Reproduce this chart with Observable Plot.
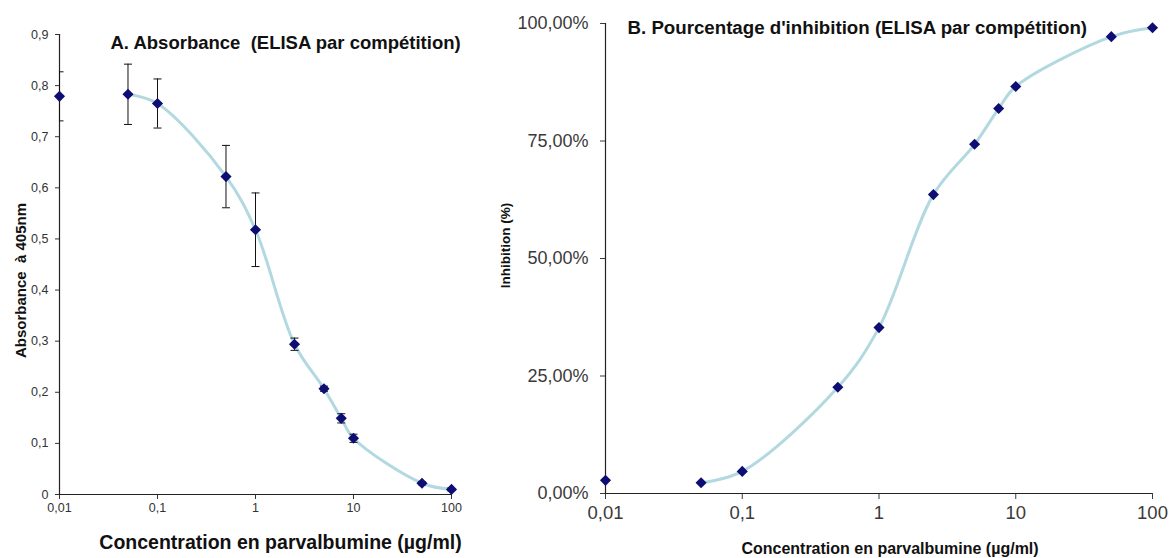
<!DOCTYPE html>
<html>
<head>
<meta charset="utf-8">
<script src="https://cdn.jsdelivr.net/npm/d3@7"></script>
<script src="https://cdn.jsdelivr.net/npm/@observablehq/plot@0.6"></script>
<style>
  html, body { margin: 0; padding: 0; background: #fff; }
  #wrap { position: relative; width: 1169px; height: 558px; overflow: hidden; font-family: "Liberation Sans", Arial, sans-serif; }
  #wrap svg { position: absolute; top: 0; background: transparent; }
</style>
</head>
<body>
<div id="wrap"></div>
<script>
// ---- Data ----
const concentrations = [0.01, 0.05, 0.1, 0.5, 1, 2.5, 5, 7.5, 10, 50, 100];
const absorbance     = [0.779, 0.783, 0.765, 0.622, 0.518, 0.294, 0.207, 0.149, 0.110, 0.022, 0.010];
const absorbanceErr  = [0.048, 0.059, 0.048, 0.061, 0.072, 0.012, 0.005, 0.009, 0.008, 0.003, 0.003];
const inhibition     = [0.028, 0.023, 0.047, 0.226, 0.353, 0.636, 0.743, 0.819, 0.866, 0.972, 0.991];

const xTicks = [0.01, 0.1, 1, 10, 100];
const xTickLabels = ["0,01", "0,1", "1", "10", "100"];
const yTicksA = [0, 0.1, 0.2, 0.3, 0.4, 0.5, 0.6, 0.7, 0.8, 0.9];
const yTickLabelsA = ["0", "0,1", "0,2", "0,3", "0,4", "0,5", "0,6", "0,7", "0,8", "0,9"];
const yTicksB = [0, 0.25, 0.5, 0.75, 1];
const yTickLabelsB = ["0,00%", "25,00%", "50,00%", "75,00%", "100,00%"];

const titleA = "A. Absorbance  (ELISA par compétition)";
const titleB = "B. Pourcentage d'inhibition (ELISA par compétition)";
const xTitle = "Concentration en parvalbumine (µg/ml)";
const yTitleA = "Absorbance  à 405nm";
const yTitleB = "Inhibition (%)";

// ---- Tables built from the arrays ----
const tableA = concentrations.map((c, i) => ({c, v: absorbance[i], lo: absorbance[i] - absorbanceErr[i], hi: absorbance[i] + absorbanceErr[i]}));
const tableB = concentrations.map((c, i) => ({c, v: inhibition[i]}));
const curveStart = 0.05; // the fitted curve begins at the second concentration

const FONT = "Liberation Sans, Arial, sans-serif";
const curveColor = "#b3d9e0";
const markerColor = "#0d0d73";

const capSymbol = {
  draw(ctx, size) {
    const w = 4;
    ctx.moveTo(-w, 0);
    ctx.lineTo(w, 0);
  }
};

const fmtFrom = (ticks, labels) => d => labels[ticks.findIndex(t => Math.abs(t - d) < 1e-9)];

// ---- Panel A ----
const plotA = Plot.plot({
  width: 490,
  height: 558,
  marginLeft: 59,
  marginRight: 39,
  marginTop: 34,
  marginBottom: 64,
  style: {fontFamily: FONT, background: "transparent"},
  x: {type: "log", domain: [0.01, 100]},
  y: {domain: [0, 0.9]},
  marks: [
    Plot.axisX({ticks: xTicks, tickFormat: fmtFrom(xTicks, xTickLabels), tickSize: 5, tickPadding: 4, fontSize: 12.5, color: "#333", label: null}),
    Plot.axisY({ticks: yTicksA, tickFormat: fmtFrom(yTicksA, yTickLabelsA), tickSize: 4, tickPadding: 7, fontSize: 12.5, color: "#333", label: null}),
    Plot.ruleY([0], {stroke: "#222", strokeWidth: 1.2}),
    Plot.ruleX([0.01], {stroke: "#222", strokeWidth: 1.2}),
    Plot.line(tableA.filter(d => d.c >= curveStart), {x: "c", y: "v", curve: "catmull-rom", stroke: curveColor, strokeWidth: 3}),
    Plot.ruleX(tableA, {x: "c", y1: "lo", y2: "hi", stroke: "#111", strokeWidth: 1}),
    Plot.dot(tableA, {x: "c", y: "lo", symbol: capSymbol, stroke: "#111", strokeWidth: 1, fill: "none", clip: true}),
    Plot.dot(tableA, {x: "c", y: "hi", symbol: capSymbol, stroke: "#111", strokeWidth: 1, fill: "none", clip: true}),
    Plot.dot(tableA, {x: "c", y: "v", symbol: "diamond2", r: 5, fill: markerColor, stroke: "none"}),
    Plot.text([titleA], {frameAnchor: "top-left", textAnchor: "start", dx: 51, dy: 9, fontSize: 18.5, fontWeight: "bold", fill: "#111", lineAnchor: "middle"}),
    Plot.text([xTitle], {frameAnchor: "bottom", textAnchor: "middle", dx: 25, dy: 48, fontSize: 19.5, fontWeight: "bold", fill: "#111", lineAnchor: "middle"}),
    Plot.text([yTitleA], {frameAnchor: "left", textAnchor: "middle", dx: -38, dy: 16, rotate: -90, fontSize: 15, fontWeight: "bold", fill: "#111", lineAnchor: "middle"})
  ]
});
plotA.style.left = "0px";

// ---- Panel B ----
const plotB = Plot.plot({
  width: 679,
  height: 558,
  marginLeft: 115,
  marginRight: 17,
  marginTop: 23,
  marginBottom: 65,
  style: {fontFamily: FONT, background: "transparent"},
  x: {type: "log", domain: [0.01, 100]},
  y: {domain: [0, 1]},
  marks: [
    Plot.axisX({ticks: xTicks, tickFormat: fmtFrom(xTicks, xTickLabels), tickSize: 6, tickPadding: 6, fontSize: 18.5, color: "#3a3a3a", label: null}),
    Plot.axisY({ticks: yTicksB, tickFormat: fmtFrom(yTicksB, yTickLabelsB), tickSize: 5, tickPadding: 12, fontSize: 18, color: "#3a3a3a", label: null}),
    Plot.ruleY([0], {stroke: "#222", strokeWidth: 1.2}),
    Plot.ruleX([0.01], {stroke: "#222", strokeWidth: 1.2}),
    Plot.line(tableB.filter(d => d.c >= curveStart), {x: "c", y: "v", curve: "catmull-rom", stroke: curveColor, strokeWidth: 3}),
    Plot.dot(tableB, {x: "c", y: "v", symbol: "diamond2", r: 5, fill: markerColor, stroke: "none"}),
    Plot.text([titleB], {frameAnchor: "top-left", textAnchor: "start", dx: 22, dy: 5, fontSize: 18.7, fontWeight: "bold", fill: "#111", lineAnchor: "middle"}),
    Plot.text([xTitle], {frameAnchor: "bottom", textAnchor: "middle", dx: 11, dy: 55, fontSize: 16, fontWeight: "bold", fill: "#111", lineAnchor: "middle"}),
    Plot.text([yTitleB], {frameAnchor: "left", textAnchor: "middle", dx: -100, dy: -13, rotate: -90, fontSize: 13.5, fontWeight: "bold", fill: "#111", lineAnchor: "middle"})
  ]
});
plotB.style.left = "490px";

const wrap = document.getElementById("wrap");
wrap.appendChild(plotA);
wrap.appendChild(plotB);
</script>
</body>
</html>
